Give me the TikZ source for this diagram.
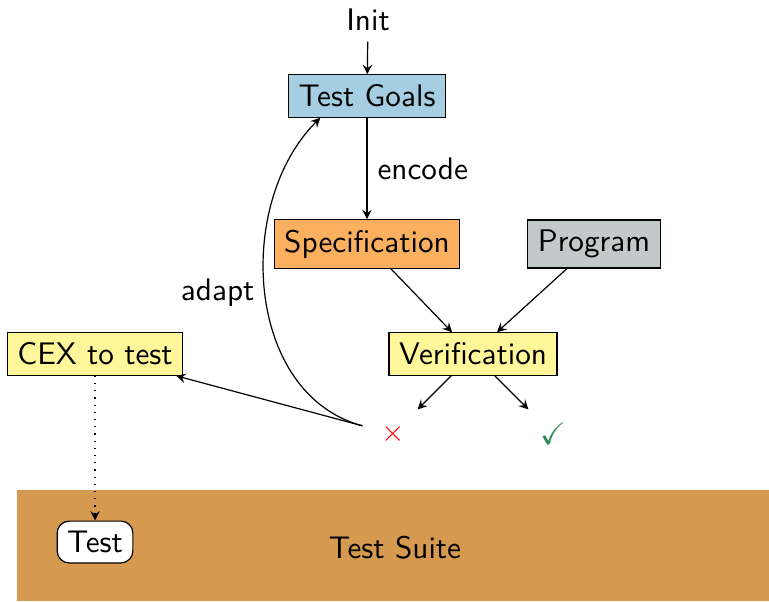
\documentclass[tikz,border=0pt]{standalone}
\usepackage{amssymb}
\definecolor{GoalsColor}{HTML}{A6CEE3}
\definecolor{SpecColor}{HTML}{FBB05F}
\definecolor{ProgramColor}{HTML}{C3C8C9}
\definecolor{StepColor}{HTML}{FFF799}
\definecolor{SuiteColor}{HTML}{D59950}
\definecolor{PassColor}{HTML}{2E8B57}
\tikzset{
    box/.style={draw, rectangle},
    result/.style={minimum width=20pt, minimum height=16pt},
    flow/.style={-stealth},
}

\begin{document}
\begin{tikzpicture}[font=\sffamily\fontsize{10.4}{12.5}\selectfont]

\useasboundingbox (0, 0) rectangle (9.008, 7.040);

% test suite area
\fill[SuiteColor] (0.199, 0) rectangle (9.008, 1.300);
\node (suite) at (4.627, 0.621) {Test Suite};
\node[box, rounded corners, fill=white] (test) at (1.113, 0.691) {Test};

\node (init) at (4.311, 6.806) {Init};
\node[box, fill=GoalsColor] (goals) at (4.299, 5.916) {Test Goals};
\node[box, fill=SpecColor] (spec) at (4.299, 4.182) {Specification};
\node[box, fill=ProgramColor] (prog) at (6.958, 4.182) {Program};
\node[box, fill=StepColor] (verif) at (5.541, 2.893) {Verification};
\node[box, fill=StepColor] (cex) at (1.113, 2.893) {CEX to test};
\node[result, text=red] (fail) at (4.604, 1.956) {$\times$};
\node[result, text=PassColor] (pass) at (6.478, 1.956) {$\checkmark$};

\draw[flow] (init) -- (goals);
\draw[flow] (goals) -- node[right] {encode} (spec);
\draw[flow] (spec) -- (verif);
\draw[flow] (prog) -- (verif);
\draw[flow] (verif) -- (fail);
\draw[flow] (verif) -- (pass);
\draw[flow] (fail) -- (cex);
\draw[flow] (fail) to[out=165, in=225] node[left] {adapt} (goals.205);
\draw[flow, dotted] (cex) -- (test);

\end{tikzpicture}
\end{document}
